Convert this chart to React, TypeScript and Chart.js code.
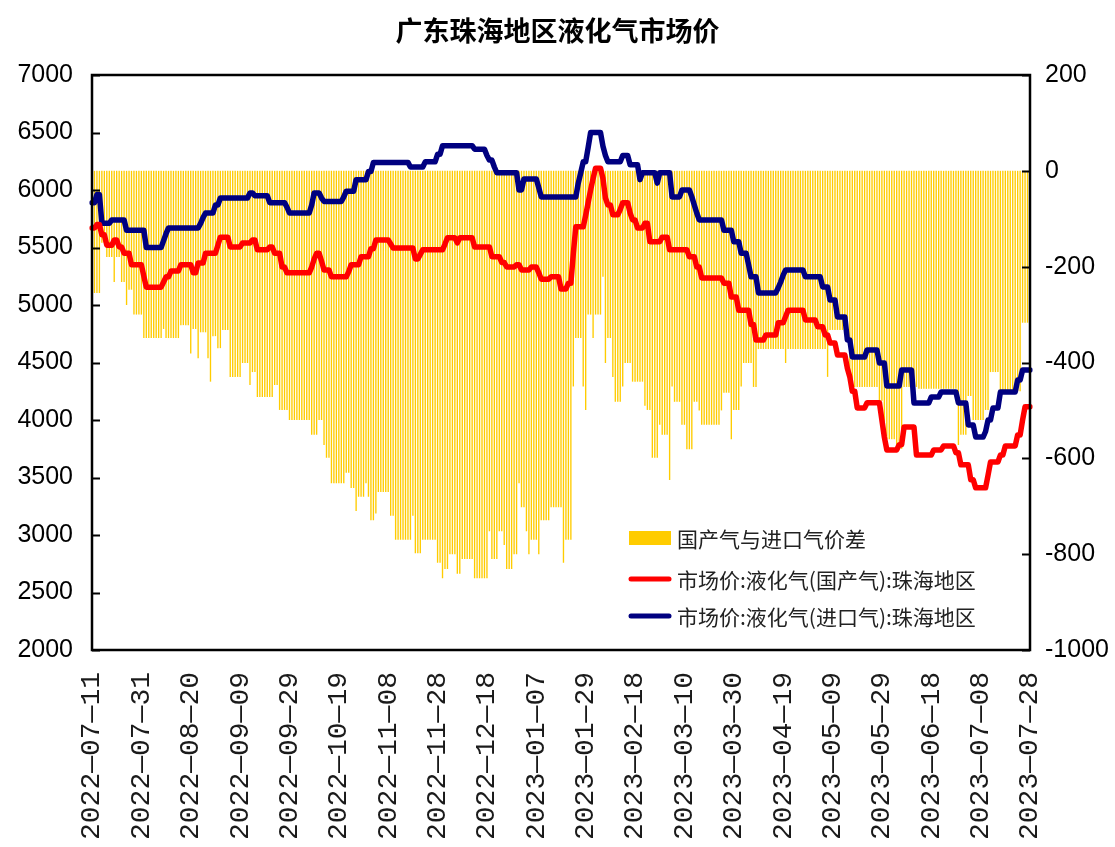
import React, { useEffect, useRef } from "react";
import { Chart, registerables } from "chart.js";

Chart.register(...registerables);

// ---------------- data ----------------
const chartTitle = "广东珠海地区液化气市场价";
const seriesNames = [
  "国产气与进口气价差",
  "市场价:液化气(国产气):珠海地区",
  "市场价:液化气(进口气):珠海地区",
];

const firstDate = "2022-07-11";
const lastDate = "2023-07-28";
const missingDates = ["2023-01-21", "2023-01-22"];

const tickLabels = [
  "2022-07-11", "2022-07-31", "2022-08-20", "2022-09-09", "2022-09-29",
  "2022-10-19", "2022-11-08", "2022-11-28", "2022-12-18", "2023-01-07",
  "2023-01-29", "2023-02-18", "2023-03-10", "2023-03-30", "2023-04-19",
  "2023-05-09", "2023-05-29", "2023-06-18", "2023-07-08", "2023-07-28",
];

// runs: [last day index (inclusive), value]
const domesticPriceRuns: [number, number][] = [
  [1, 5670], [3, 5700], [5, 5610], [8, 5520], [10, 5565], [12, 5505], [15, 5450],
  [20, 5350], [21, 5250], [28, 5155], [29, 5200], [31, 5245], [35, 5295], [40, 5350],
  [42, 5280], [45, 5365], [50, 5450], [51, 5520], [55, 5590], [60, 5505], [64, 5540],
  [66, 5565], [71, 5480], [73, 5505], [76, 5450], [78, 5330], [88, 5280], [89, 5330],
  [90, 5400], [92, 5450], [93, 5380], [96, 5305], [103, 5245], [104, 5290], [108, 5350],
  [112, 5420], [114, 5490], [120, 5565], [121, 5530], [130, 5495], [132, 5400], [133, 5440],
  [142, 5480], [143, 5530], [147, 5585], [148, 5540], [154, 5585], [161, 5505], [165, 5420],
  [167, 5370], [171, 5330], [173, 5350], [177, 5305], [180, 5330], [181, 5280], [185, 5225],
  [189, 5245], [192, 5140], [194, 5190], [195, 5450], [199, 5680], [200, 5780], [201, 5890],
  [202, 6000], [203, 6100], [206, 6190], [207, 6100], [208, 5930], [210, 5870], [213, 5785],
  [214, 5830], [217, 5890], [218, 5800], [220, 5740], [223, 5670], [225, 5710], [230, 5550],
  [233, 5590], [241, 5480], [244, 5420], [246, 5330], [255, 5235], [258, 5190], [261, 5070],
  [266, 4955], [268, 4830], [272, 4695], [277, 4740], [280, 4845], [281, 4900], [288, 4955],
  [293, 4870], [296, 4810], [298, 4740], [301, 4670], [305, 4565], [306, 4450], [307, 4375],
  [309, 4250], [313, 4105], [319, 4150], [320, 4000], [321, 3850], [326, 3740], [328, 3785],
  [333, 3940], [340, 3695], [344, 3740], [349, 3775], [351, 3715], [355, 3610], [357, 3480],
  [362, 3410], [363, 3520], [367, 3635], [369, 3695], [374, 3775], [376, 3870], [377, 4000],
  [380, 4115],
];

const importPriceRuns: [number, number][] = [
  [1, 5890], [3, 5960], [7, 5710], [13, 5740], [21, 5650], [28, 5500], [29, 5560], [30, 5620],
  [43, 5670], [44, 5710], [45, 5760], [49, 5800], [51, 5870], [63, 5930], [65, 5975], [71, 5950],
  [78, 5890], [79, 5850], [88, 5800], [89, 5870], [92, 5975], [93, 5930], [101, 5900], [102, 5940],
  [106, 5990], [111, 6090], [113, 6160], [128, 6240], [134, 6200], [139, 6245], [141, 6310],
  [154, 6385], [159, 6355], [160, 6300], [162, 6260], [163, 6200], [172, 6150], [174, 6000],
  [180, 6096], [181, 6020], [196, 5940], [197, 6060], [198, 6150], [200, 6245], [201, 6370],
  [206, 6500], [207, 6380], [208, 6300], [214, 6245], [217, 6300], [221, 6220], [222, 6090],
  [228, 6150], [229, 6060], [234, 6150], [238, 5940], [242, 6000], [243, 5940], [244, 5870],
  [245, 5800], [255, 5740], [259, 5650], [262, 5550], [265, 5450], [266, 5350], [269, 5245],
  [277, 5105], [278, 5150], [279, 5200], [280, 5260], [288, 5305], [295, 5245], [298, 5157],
  [301, 5043], [305, 4896], [307, 4696], [313, 4548], [318, 4609], [321, 4496], [327, 4296],
  [332, 4435], [339, 4148], [343, 4200], [350, 4243], [354, 4148], [357, 3957], [361, 3852],
  [362, 3900], [364, 4000], [367, 4104], [374, 4243], [376, 4348], [380, 4435],
];

const spreadRuns: [number, number][] = [
  [0, -240], [3, -255], [5, -150], [8, -180], [9, -232], [11, -180], [13, -232], [14, -280],
  [16, -248], [20, -300], [28, -349], [29, -330], [35, -349], [39, -322], [40, -381], [42, -330],
  [43, -391], [46, -337], [47, -391], [48, -440], [50, -345], [52, -370], [55, -332], [60, -430],
  [63, -401], [64, -447], [66, -420], [73, -472], [75, -447], [79, -499], [88, -520], [91, -551],
  [93, -520], [94, -572], [96, -599], [102, -652], [104, -630], [106, -662], [107, -710],
  [110, -680], [111, -652], [112, -680], [114, -729], [115, -715], [120, -670], [122, -720],
  [129, -770], [130, -720], [133, -798], [139, -770], [141, -818], [142, -850], [144, -831],
  [147, -800], [149, -841], [154, -810], [160, -850], [161, -752], [164, -810], [166, -752],
  [167, -781], [170, -831], [172, -800], [173, -652], [175, -702], [176, -752], [177, -800],
  [180, -770], [181, -800], [185, -729], [190, -702], [191, -818], [194, -770], [195, -450],
  [198, -349], [199, -450], [200, -499], [202, -300], [203, -349], [206, -300], [207, -221],
  [208, -401], [210, -349], [211, -430], [214, -482], [215, -450], [218, -401], [223, -440],
  [224, -490], [226, -499], [229, -599], [230, -530], [233, -551], [234, -645], [235, -450],
  [238, -482], [240, -530], [243, -581], [245, -482], [246, -500], [254, -530], [255, -500],
  [258, -463], [259, -560], [262, -499], [263, -450], [267, -401], [269, -451], [280, -372],
  [281, -401], [297, -372], [298, -430], [306, -332], [318, -451], [320, -480], [325, -560],
  [328, -580], [334, -451], [350, -455], [351, -572], [354, -551], [356, -470], [361, -520],
  [363, -499], [367, -420], [376, -460], [380, -317],
];

// ---------------- helpers ----------------
function buildDates(): string[] {
  const out: string[] = [];
  const d = new Date(firstDate + "T00:00:00Z");
  const end = new Date(lastDate + "T00:00:00Z");
  while (d.getTime() <= end.getTime()) {
    const s = d.toISOString().slice(0, 10);
    if (!missingDates.includes(s)) out.push(s);
    d.setUTCDate(d.getUTCDate() + 1);
  }
  return out;
}

function expandRuns(runs: [number, number][]): number[] {
  const out: number[] = [];
  runs.forEach(([last, v]) => {
    while (out.length <= last) out.push(v);
  });
  return out;
}

const BAR_COLOR = "#FFCC00";
const RED = "#FF0000";
const NAVY = "#000080";

const framePlugin = {
  id: "frameAndTicks",
  afterDatasetsDraw(chart: any) {
    const { ctx, chartArea: a, scales } = chart;
    ctx.save();
    ctx.strokeStyle = "#000";
    ctx.lineWidth = 2;
    scales.y.ticks.forEach((t: any) => {
      const py = Math.round(scales.y.getPixelForValue(t.value)) + 0.5;
      ctx.beginPath();
      ctx.moveTo(a.left, py);
      ctx.lineTo(a.left + 8, py);
      ctx.stroke();
    });
    scales.y1.ticks.forEach((t: any) => {
      const py = Math.round(scales.y1.getPixelForValue(t.value)) + 0.5;
      ctx.beginPath();
      ctx.moveTo(a.right - 8, py);
      ctx.lineTo(a.right, py);
      ctx.stroke();
    });
    ctx.lineWidth = 2.5;
    ctx.strokeRect(a.left, a.top, a.right - a.left, a.bottom - a.top);
    ctx.restore();
  },
};

const insideLegendPlugin = {
  id: "insideLegend",
  afterDraw(chart: any) {
    const { ctx, chartArea: a } = chart;
    const x0 = a.left + 537;
    const rows = [a.top + 463, a.top + 504, a.top + 541];
    ctx.save();
    ctx.font = "21px 'Noto Sans CJK SC', sans-serif";
    ctx.textBaseline = "middle";
    chart.data.datasets.forEach((ds: any, i: number) => {
      const y = rows[i];
      if (ds.type === "bar") {
        ctx.fillStyle = ds.backgroundColor;
        ctx.fillRect(x0, y - 7, 42, 14);
      } else {
        ctx.strokeStyle = ds.borderColor;
        ctx.lineWidth = 5;
        ctx.lineCap = "round";
        ctx.beginPath();
        ctx.moveTo(x0 + 2, y);
        ctx.lineTo(x0 + 40, y);
        ctx.stroke();
      }
      ctx.fillStyle = "#222";
      ctx.fillText(ds.label, x0 + 48, y + 1);
    });
    ctx.restore();
  },
};

export default function App() {
  const canvasRef = useRef<HTMLCanvasElement | null>(null);

  useEffect(() => {
    if (!canvasRef.current) return;
    const labels = buildDates();
    const spread = expandRuns(spreadRuns);
    const domestic = expandRuns(domesticPriceRuns);
    const imported = expandRuns(importPriceRuns);

    const axisFont = { family: "'Liberation Sans', Arial, sans-serif", size: 25 };

    const chart = new Chart(canvasRef.current, {
      type: "bar",
      data: {
        labels,
        datasets: [
          {
            type: "bar",
            label: seriesNames[0],
            data: spread,
            yAxisID: "y1",
            backgroundColor: BAR_COLOR,
            borderWidth: 0,
            barPercentage: 0.55,
            categoryPercentage: 1,
            order: 3,
          },
          {
            type: "line",
            label: seriesNames[1],
            data: domestic,
            yAxisID: "y",
            borderColor: RED,
            backgroundColor: RED,
            borderWidth: 5.5,
            pointRadius: 0,
            tension: 0,
            borderJoinStyle: "round",
            borderCapStyle: "round",
            order: 1,
          },
          {
            type: "line",
            label: seriesNames[2],
            data: imported,
            yAxisID: "y",
            borderColor: NAVY,
            backgroundColor: NAVY,
            borderWidth: 5.5,
            pointRadius: 0,
            tension: 0,
            borderJoinStyle: "round",
            borderCapStyle: "round",
            order: 2,
          },
        ] as any,
      },
      options: {
        responsive: false,
        animation: false,
        devicePixelRatio: 1,
        layout: { padding: 0 },
        plugins: {
          legend: { display: false },
          tooltip: { enabled: false },
          title: {
            display: true,
            text: chartTitle,
            color: "#000",
            font: { family: "'Noto Sans CJK SC', sans-serif", size: 27, weight: "bold" },
            padding: { top: 15, bottom: 27.6 },
          },
        },
        scales: {
          x: {
            type: "category",
            offset: false,
            grid: { display: false, drawTicks: false },
            border: { display: false },
            ticks: {
              autoSkip: false,
              minRotation: 90,
              maxRotation: 90,
              padding: 22,
              color: "#1a1a1a",
              font: { family: "'Liberation Mono', monospace", size: 28 },
              callback: function (this: any, _v: any, idx: number) {
                const lab = labels[idx];
                return tickLabels.includes(lab) ? lab.replace(/-/g, "—") : null;
              },
            },
            afterFit: (s: any) => {
              s.height = 197;
            },
          },
          y: {
            position: "left",
            min: 2000,
            max: 7000,
            grid: { display: false, drawTicks: false },
            border: { display: false },
            ticks: {
              stepSize: 500,
              padding: 19,
              color: "#000",
              font: axisFont,
              callback: (v: any) => String(v),
            },
            afterFit: (s: any) => {
              s.width = 92;
            },
          },
          y1: {
            position: "right",
            min: -1000,
            max: 200,
            grid: { display: false, drawTicks: false },
            border: { display: false },
            ticks: {
              stepSize: 200,
              padding: 15,
              color: "#000",
              font: axisFont,
              callback: (v: any) => String(v),
            },
            afterFit: (s: any) => {
              s.width = 85;
            },
          },
        },
      } as any,
      plugins: [framePlugin, insideLegendPlugin],
    });
    return () => chart.destroy();
  }, []);

  return (
    <div style={{ position: "fixed", left: 0, top: 0, width: 1115, height: 847, background: "#fff" }}>
      <canvas ref={canvasRef} width={1115} height={847} style={{ display: "block" }} />
    </div>
  );
}
